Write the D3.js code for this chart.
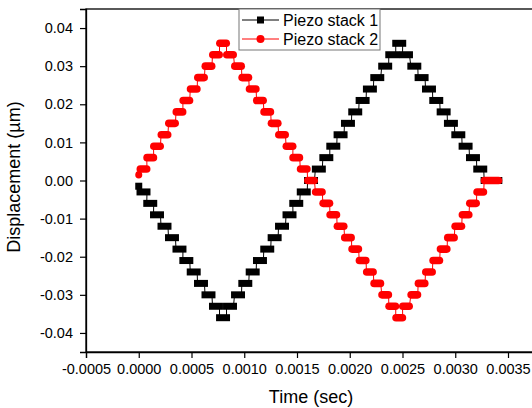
<!DOCTYPE html>
<html>
<head>
<meta charset="utf-8">
<script src="https://cdn.jsdelivr.net/npm/d3@7/dist/d3.min.js"></script>
<style>
body{margin:0;background:#fff;}
svg{display:block;font-family:"Liberation Sans",Arial,sans-serif;}
</style>
</head>
<body>
<div class="container"></div>
<script>
// each step = run of samples at one level: first and last sample time (sec)
var stepStart = [0, 0.000012, 0.000076, 0.000140, 0.000211, 0.000282, 0.000353, 0.000418, 0.000488, 0.000557,
	0.000628, 0.000699, 0.000766, 0.000832, 0.000908, 0.000977, 0.001047, 0.001116, 0.001185, 0.001255,
	0.001325, 0.001396, 0.001460, 0.001531, 0.001600, 0.001674, 0.001745, 0.001811, 0.001880, 0.001950,
	0.002019, 0.002089, 0.002158, 0.002228, 0.002303, 0.002370, 0.002436, 0.002500, 0.002579, 0.002648,
	0.002718, 0.002787, 0.002857, 0.002926, 0.002996, 0.003065, 0.003135, 0.003204, 0.003274];
var stepEnd = [0, 0.000078, 0.000142, 0.000206, 0.000277, 0.000348, 0.000419, 0.000484, 0.000554, 0.000623,
	0.000694, 0.000765, 0.000832, 0.000898, 0.000974, 0.001043, 0.001113, 0.001182, 0.001251, 0.001321,
	0.001391, 0.001462, 0.001526, 0.001597, 0.001666, 0.001740, 0.001811, 0.001877, 0.001946, 0.002016,
	0.002085, 0.002155, 0.002224, 0.002294, 0.002369, 0.002436, 0.002502, 0.002566, 0.002645, 0.002714,
	0.002784, 0.002853, 0.002923, 0.002992, 0.003062, 0.003131, 0.003201, 0.003270, 0.003413];

var stack1 = [-0.0015, -0.003, -0.006, -0.009, -0.012, -0.015, -0.018, -0.021, -0.024, -0.027,
	-0.030, -0.033, -0.036, -0.033, -0.030, -0.027, -0.024, -0.021, -0.018, -0.015,
	-0.012, -0.009, -0.006, -0.003, 0.000, 0.003, 0.006, 0.009, 0.012, 0.015,
	0.018, 0.021, 0.024, 0.027, 0.030, 0.033, 0.036, 0.033, 0.030, 0.027,
	0.024, 0.021, 0.018, 0.015, 0.012, 0.009, 0.006, 0.003, 0.000];
var stack2 = [0.0015, 0.003, 0.006, 0.009, 0.012, 0.015, 0.018, 0.021, 0.024, 0.027,
	0.030, 0.033, 0.036, 0.033, 0.030, 0.027, 0.024, 0.021, 0.018, 0.015,
	0.012, 0.009, 0.006, 0.003, 0.000, -0.003, -0.006, -0.009, -0.012, -0.015,
	-0.018, -0.021, -0.024, -0.027, -0.030, -0.033, -0.036, -0.033, -0.030, -0.027,
	-0.024, -0.021, -0.018, -0.015, -0.012, -0.009, -0.006, -0.003, 0.000];

var seriesNames = ["Piezo stack 1", "Piezo stack 2"];
var xTicks = [-0.0005, 0.0000, 0.0005, 0.0010, 0.0015, 0.0020, 0.0025, 0.0030, 0.0035];
var yTicks = [-0.04, -0.03, -0.02, -0.01, 0.00, 0.01, 0.02, 0.03, 0.04];

var W = 532, H = 408;
var left = 86, top_ = 9, bottom = 352;

var xScale = d3.scaleLinear().domain([-0.0005, 0.004]).range([left, left + 474.75]);
var yScale = d3.scaleLinear().domain([-0.045, 0.045]).range([bottom, top_]);

function drawSVG(){
	return d3.select(".container")
	.append("svg")
	.attr("width", W)
	.attr("height", H);
}

function minorOf(ticks){
	var m = [];
	for (var i = 0; i < ticks.length; i++) {
		var step = ticks[1] - ticks[0];
		m.push(ticks[i] + step / 2);
	}
	return m;
}

function drawAxes(svg){
	// frame (right side falls outside the picture)
	svg.append("rect")
	.attr("x", left).attr("y", top_)
	.attr("width", xScale(0.004) - left).attr("height", bottom - top_)
	.attr("fill", "none").attr("stroke", "#000").attr("stroke-width", 1.3);

	var gx = svg.append("g").attr("transform", "translate(0," + bottom + ")");
	gx.call(d3.axisBottom(xScale).tickValues(minorOf(xTicks)).tickSize(3.5).tickFormat(""));
	gx.call(d3.axisBottom(xScale).tickValues(xTicks).tickSize(6).tickPadding(6)
		.tickFormat(function(d){ return d.toFixed(4); }));

	var gy = svg.append("g").attr("transform", "translate(" + left + ",0)");
	gy.call(d3.axisLeft(yScale).tickValues(minorOf(yTicks).slice(0, -1)).tickSize(3.5).tickFormat(""));
	gy.call(d3.axisLeft(yScale).tickValues(yTicks).tickSize(6).tickPadding(7)
		.tickFormat(function(d){ return d.toFixed(2); }));

	svg.selectAll(".domain").attr("stroke-width", 1.3);
	svg.selectAll(".tick line").attr("stroke-width", 1.2);
	svg.selectAll(".tick text").attr("font-size", 14.5).attr("fill", "#000")
	.attr("font-family", "'Liberation Sans', Arial, sans-serif");

	svg.append("text")
	.attr("x", 311).attr("y", 403)
	.attr("text-anchor", "middle")
	.attr("font-size", 18)
	.text("Time (sec)");

	svg.append("text")
	.attr("transform", "translate(20,177) rotate(-90)")
	.attr("text-anchor", "middle")
	.attr("font-size", 18)
	.text("Displacement (\u00b5m)");
}

function stepPoints(levels){
	var pts = [];
	levels.forEach(function(v, i){
		pts.push([stepStart[i], v]);
		if (stepEnd[i] !== stepStart[i]) pts.push([stepEnd[i], v]);
	});
	return pts;
}

function drawSeries(svg, levels, color, round){
	var line = d3.line()
	.x(function(d){ return xScale(d[0]); })
	.y(function(d){ return yScale(d[1]); });

	svg.append("path")
	.datum(stepPoints(levels))
	.attr("d", line)
	.attr("fill", "none")
	.attr("stroke", color)
	.attr("stroke-width", 1);

	var h = round ? 7.6 : 7;
	svg.append("g")
	.selectAll("rect")
	.data(levels)
	.enter()
	.append("rect")
	.attr("x", function(d, i){ return xScale(stepStart[i]) - 3.5; })
	.attr("y", function(d){ return yScale(d) - h / 2; })
	.attr("width", function(d, i){ return xScale(stepEnd[i]) - xScale(stepStart[i]) + 7; })
	.attr("height", h)
	.attr("rx", round ? h / 2 : 0)
	.attr("fill", color);
}

function drawLegend(svg){
	var g = svg.append("g");
	g.append("rect")
	.attr("x", 239).attr("y", 9).attr("width", 141).attr("height", 41)
	.attr("fill", "#fff").attr("stroke", "#777").attr("stroke-width", 1);

	var colors = ["#000", "#ff0000"];
	seriesNames.forEach(function(name, i){
		var cy = 20 + i * 19;
		g.append("line")
		.attr("x1", 242).attr("x2", 279).attr("y1", cy).attr("y2", cy)
		.attr("stroke", colors[i]).attr("stroke-width", 1);
		if (i === 0) {
			g.append("rect").attr("x", 257).attr("y", cy - 3.5).attr("width", 7).attr("height", 7).attr("fill", colors[i]);
		} else {
			g.append("circle").attr("cx", 260.5).attr("cy", cy).attr("r", 4).attr("fill", colors[i]);
		}
		g.append("text")
		.attr("x", 283).attr("y", cy + 6)
		.attr("font-size", 16)
		.text(name);
	});
}

var svg = drawSVG();
drawAxes(svg);
drawSeries(svg, stack1, "#000", false);
drawSeries(svg, stack2, "#ff0000", true);
drawLegend(svg);
</script>
</body>
</html>
